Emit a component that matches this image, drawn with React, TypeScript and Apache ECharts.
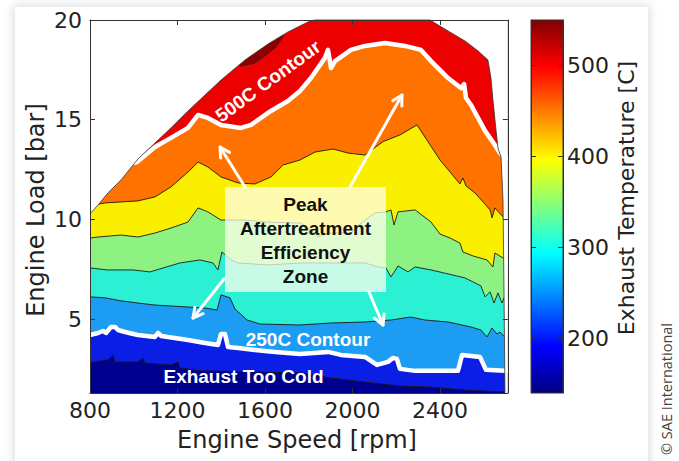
import React, { useEffect, useRef } from "react";
import * as echarts from "echarts";

// ---------- axes / ticks ----------
const speedRange = [800, 2710];
const loadRange = [1.3, 20];
const tempRange = [140, 550];
const speedTicks = [800, 1200, 1600, 2000, 2400];
const loadTicks = [5, 10, 15, 20];
const tempTicks = [200, 300, 400, 500];

// ---------- data: [engine speed rpm, engine load bar] ----------
// outer edge of the measured map
const envelope: [number, number][] = [
  [800, 10.28], [837, 10.73], [882, 11.33], [942, 11.98], [1019, 13.03], [1097, 13.83],
  [1170, 14.59], [1248, 15.44], [1326, 16.24], [1399, 16.99], [1509, 18.0], [1614, 18.8],
  [1705, 19.4], [1760, 19.7], [1806, 19.95], [1829, 20], [2354, 20], [2437, 19.45],
  [2514, 18.95], [2574, 18.45], [2619, 18.0], [2633, 17.09], [2642, 15.99], [2656, 14.49],
  [2665, 13.58], [2679, 13.13], [2688, 10.98], [2693, 5.97], [2697, 1.3],
];

// iso-temperature contours
const c200: [number, number][] = [
  [800, 2.81], [846, 2.91], [882, 2.96], [905, 3.21], [914, 2.86], [1019, 2.86], [1042, 3.06],
  [1051, 2.81], [1170, 2.71], [1202, 2.86], [1211, 2.56], [1303, 2.41], [1531, 2.36],
  [1760, 2.31], [1897, 2.06], [2057, 1.85], [2217, 1.65], [2354, 1.6], [2514, 1.45],
  [2697, 1.35], [2710, 1.35],
];
const c250: [number, number][] = [
  [800, 4.21], [837, 4.31], [859, 4.41], [873, 4.31], [896, 4.61], [914, 4.61], [928, 4.46],
  [960, 4.36], [1019, 4.21], [1097, 4.11], [1111, 4.31], [1125, 4.16], [1248, 3.96],
  [1326, 3.81], [1385, 3.71], [1399, 4.26], [1417, 4.26], [1431, 3.61], [1477, 3.56],
  [1554, 3.46], [1646, 3.36], [1760, 3.26], [1888, 3.36], [1947, 3.21], [2057, 3.11],
  [2112, 2.71], [2162, 2.86], [2185, 3.06], [2203, 3.01], [2217, 2.51], [2286, 2.41],
  [2482, 2.41], [2501, 3.21], [2542, 3.16], [2583, 3.11], [2610, 2.46], [2697, 2.41], [2710, 2.41],
];
const c300: [number, number][] = [
  [800, 6.12], [869, 6.07], [942, 5.92], [1019, 5.81], [1097, 5.71], [1248, 5.61], [1326, 5.56],
  [1381, 5.46], [1399, 6.22], [1440, 6.07], [1463, 5.51], [1518, 4.96], [1577, 4.76],
  [1760, 4.71], [1902, 4.81], [2057, 4.86], [2176, 4.96], [2267, 5.11], [2331, 4.96],
  [2437, 4.86], [2542, 4.61], [2587, 4.46], [2615, 4.11], [2638, 4.56], [2660, 4.26],
  [2674, 4.36], [2697, 4.11], [2710, 4.11],
];
const c350: [number, number][] = [
  [800, 7.57], [878, 7.47], [997, 7.47], [1074, 7.37], [1211, 7.82], [1303, 7.97], [1362, 7.82],
  [1385, 7.47], [1403, 8.37], [1445, 7.97], [1477, 7.82], [1614, 7.72], [1765, 7.82],
  [2057, 7.82], [2117, 7.62], [2153, 7.57], [2176, 7.12], [2194, 7.42], [2208, 7.67],
  [2254, 7.37], [2286, 7.62], [2359, 7.47], [2437, 7.27], [2514, 7.07], [2587, 6.67],
  [2606, 6.12], [2629, 6.37], [2647, 5.81], [2665, 6.32], [2683, 5.81], [2697, 6.17], [2710, 6.17],
];
const c400: [number, number][] = [
  [800, 9.07], [837, 9.12], [942, 9.22], [1019, 9.12], [1097, 9.32], [1170, 9.57], [1248, 9.87],
  [1294, 10.58], [1339, 10.38], [1399, 9.97], [1509, 9.97], [1614, 9.87], [1765, 9.82],
  [1810, 9.47], [1842, 9.12], [1888, 9.32], [1993, 9.32], [2039, 9.82], [2103, 10.33],
  [2153, 10.38], [2176, 10.48], [2190, 9.72], [2208, 10.38], [2286, 10.48], [2359, 9.87],
  [2400, 9.27], [2446, 9.07], [2491, 8.82], [2505, 8.37], [2551, 8.17], [2615, 7.97],
  [2642, 7.62], [2651, 8.32], [2688, 8.07], [2710, 8.07],
];
const c450: [number, number][] = [
  [800, 10.68], [846, 10.78], [869, 10.83], [1019, 10.93], [1097, 11.13], [1170, 11.63],
  [1248, 12.38], [1294, 12.88], [1339, 12.63], [1399, 12.13], [1477, 11.83], [1554, 11.78],
  [1627, 12.13], [1682, 12.73], [1760, 12.98], [1829, 13.38], [1911, 13.53], [1979, 13.33],
  [2057, 13.23], [2139, 13.9], [2217, 14.24], [2295, 14.74], [2400, 12.98], [2446, 12.38],
  [2491, 11.78], [2505, 12.08], [2519, 11.68], [2560, 11.33], [2597, 10.88], [2629, 10.48],
  [2638, 10.08], [2651, 10.58], [2688, 10.13], [2697, 9.97], [2710, 9.97],
];
const c500: [number, number][] = [
  [800, 12.23], [937, 12.68], [1015, 12.88], [1097, 13.63], [1170, 14.09], [1248, 14.59],
  [1294, 15.24], [1339, 15.09], [1399, 14.74], [1490, 14.59], [1536, 14.74], [1627, 15.44],
  [1705, 15.94], [1760, 16.44], [1810, 17.09], [1874, 18.1], [1888, 18.5], [1902, 17.59],
  [1920, 17.94], [1993, 18.5], [2057, 18.7], [2149, 18.85], [2240, 18.7], [2313, 18.5],
  [2359, 17.94], [2437, 17.09], [2496, 16.59], [2510, 16.79], [2519, 16.09], [2542, 15.74],
  [2606, 14.44], [2651, 13.73], [2674, 13.33], [2710, 12.98],
];
// hottest pocket (> 550 C)
const hotSpot: [number, number][] = [
  [1477, 17.79], [1490, 17.69], [1554, 17.84], [1600, 18.2], [1646, 18.6], [1673, 19.0],
  [1687, 19.3], [1623, 19.25], [1531, 18.75], [1477, 18.25],
];

// lines painted from the hottest down; each fills the region below it
const bandLines = [c500, c450, c400, c350, c300, c250, c200];
const bandColors = ["#ff7200", "#fbef00", "#8ef282", "#2cf0d4", "#1c9cf2", "#0a1ee6", "#00008e"];
const topColor = "#ec0000";
const hotColor = "#8c0000";
const whiteLines = [c250, c500];

const jetStops = [
  { offset: 0, color: "#800000" },
  { offset: 0.125, color: "#ff0000" },
  { offset: 0.375, color: "#ffff00" },
  { offset: 0.625, color: "#00ffff" },
  { offset: 0.875, color: "#0000ff" },
  { offset: 1, color: "#000080" },
];

const AXIS_FONT = "DejaVu Sans";
const NOTE_FONT = "Liberation Sans, Arial, sans-serif";

function arrow(x1: number, y1: number, x2: number, y2: number) {
  const a = Math.atan2(y2 - y1, x2 - x1);
  const L = 11;
  const w = 0.5;
  const p1 = [x2 - L * Math.cos(a - w), y2 - L * Math.sin(a - w)];
  const p2 = [x2 - L * Math.cos(a + w), y2 - L * Math.sin(a + w)];
  return [
    { type: "line", z: 100, shape: { x1, y1, x2, y2 }, style: { stroke: "#fff", lineWidth: 3, lineCap: "round" } },
    {
      type: "polyline", z: 100,
      shape: { points: [p1, [x2, y2], p2] },
      style: { stroke: "#fff", lineWidth: 3, fill: null, lineCap: "round", lineJoin: "round" },
    },
  ];
}

export default function App() {
  const ref = useRef<HTMLDivElement>(null);

  useEffect(() => {
    if (!ref.current) return;
    const chart = echarts.init(ref.current, null, { renderer: "svg" });

    const renderContours = (_params: any, api: any) => {
      const P = (p: number[]) => api.coord(p);
      const children: any[] = [];
      const tl = P([speedRange[0], loadRange[1]]);
      const br = P([speedRange[1], loadRange[0]]);
      children.push({
        type: "rect",
        shape: { x: tl[0], y: tl[1], width: br[0] - tl[0], height: br[1] - tl[1] },
        style: { fill: topColor },
      });
      bandLines.forEach((line, i) => {
        const pts = line.map(P);
        pts.push(P([line[line.length - 1][0], loadRange[0]]), P([line[0][0], loadRange[0]]));
        children.push({ type: "polygon", shape: { points: pts }, style: { fill: bandColors[i] } });
      });
      children.push({
        type: "polygon",
        shape: { points: hotSpot.map(P) },
        style: { fill: hotColor, stroke: "#222", lineWidth: 0.8 },
      });
      bandLines.forEach((line) =>
        children.push({
          type: "polyline",
          shape: { points: line.map(P) },
          style: { stroke: "#1a1a1a", lineWidth: 0.9, fill: null },
        })
      );
      whiteLines.forEach((line) =>
        children.push({
          type: "polyline",
          shape: { points: line.map(P) },
          style: { stroke: "#ffffff", lineWidth: 4.5, fill: null, lineJoin: "round" },
        })
      );
      const mask = envelope.map(P);
      mask.push(P([speedRange[1], loadRange[0]]), P([speedRange[1], loadRange[1]]), P([speedRange[0], loadRange[1]]));
      children.push({ type: "polygon", shape: { points: mask }, style: { fill: "#ffffff" } });
      children.push({
        type: "polyline",
        shape: { points: envelope.map(P) },
        style: { stroke: "#333", lineWidth: 0.8, fill: null },
      });
      return { type: "group", children };
    };

    const renderColorbar = (_params: any, api: any) => {
      const a = api.coord([0, tempRange[1]]);
      const b = api.coord([1, tempRange[0]]);
      return {
        type: "rect",
        shape: { x: a[0], y: a[1], width: b[0] - a[0], height: b[1] - a[1] },
        style: {
          fill: new echarts.graphic.LinearGradient(0, 0, 0, 1, jetStops),
          stroke: "#333",
          lineWidth: 1,
        },
      };
    };

    const plain = (v: number) => String(v);
    const frameLine = { show: true, onZero: false, lineStyle: { color: "#333", width: 1 } };
    const tickIn = { show: true, inside: true, length: 5, lineStyle: { color: "#333" } };
    const labelStyle = { fontFamily: AXIS_FONT, fontSize: 22, color: "#222", formatter: plain };

    const notes: any[] = [
      {
        type: "rect", z: 90,
        shape: { x: 225, y: 187, width: 161, height: 105 },
        style: { fill: "rgba(255,255,238,0.74)" },
      },
      ...["Peak", "Aftertreatment", "Efficiency", "Zone"].map((t, i) => ({
        type: "text", z: 101, x: 305.5, y: 204 + i * 24,
        style: {
          text: t, fontFamily: NOTE_FONT, fontWeight: "bold", fontSize: 19, fill: "#111",
          align: "center", verticalAlign: "middle",
        },
      })),
      ...arrow(245, 187, 220, 147),
      ...arrow(350, 187, 402, 95),
      ...arrow(224, 279, 193, 318),
      ...arrow(369, 292, 383, 325),
      {
        type: "text", z: 101, x: 268, y: 81, rotation: (36 * Math.PI) / 180,
        style: {
          text: "500C Contour", fontFamily: NOTE_FONT, fontWeight: "bold", fontSize: 19, fill: "#fff",
          align: "center", verticalAlign: "middle",
        },
      },
      {
        type: "text", z: 101, x: 308, y: 339,
        style: {
          text: "250C Contour", fontFamily: NOTE_FONT, fontWeight: "bold", fontSize: 19, fill: "#fff",
          align: "center", verticalAlign: "middle",
        },
      },
      {
        type: "text", z: 101, x: 243.5, y: 376,
        style: {
          text: "Exhaust Too Cold", fontFamily: NOTE_FONT, fontWeight: "bold", fontSize: 19, fill: "#fff",
          align: "center", verticalAlign: "middle",
        },
      },
      {
        type: "text", z: 101, x: 36, y: 210, rotation: Math.PI / 2,
        style: {
          text: "Engine Load [bar]", fontFamily: AXIS_FONT, fontSize: 24, fill: "#222",
          align: "center", verticalAlign: "middle",
        },
      },
      {
        type: "text", z: 101, x: 297, y: 440,
        style: {
          text: "Engine Speed [rpm]", fontFamily: AXIS_FONT, fontSize: 24, fill: "#222",
          align: "center", verticalAlign: "middle",
        },
      },
      {
        type: "text", z: 101, x: 626, y: 198, rotation: Math.PI / 2,
        style: {
          text: "Exhaust Temperature [C]", fontFamily: AXIS_FONT, fontSize: 22, fill: "#222",
          align: "center", verticalAlign: "middle",
        },
      },
      {
        type: "text", z: 101, x: 666, y: 389, rotation: Math.PI / 2,
        style: {
          text: "© SAE International", fontFamily: "Open Sans", fontSize: 14.5, fill: "#444",
          align: "center", verticalAlign: "middle",
        },
      },
    ];

    chart.setOption({
      animation: false,
      backgroundColor: "transparent",
      grid: [
        { left: 90, top: 20, width: 417.8, height: 373 },
        { left: 531, top: 20, width: 32, height: 373 },
      ],
      xAxis: [
        {
          type: "value", gridIndex: 0, min: speedRange[0], max: speedRange[1], interval: 400,
          position: "bottom", z: 10, splitLine: { show: false },
          axisLine: frameLine, axisTick: tickIn,
          axisLabel: { ...labelStyle, margin: 6, customValues: speedTicks },
        },
        {
          type: "value", gridIndex: 0, min: speedRange[0], max: speedRange[1], interval: 400,
          position: "top", z: 10, splitLine: { show: false },
          axisLine: frameLine, axisTick: tickIn, axisLabel: { show: false },
        },
        { type: "value", gridIndex: 1, min: 0, max: 1, show: false },
      ],
      yAxis: [
        {
          type: "value", gridIndex: 0, min: loadRange[0], max: loadRange[1], position: "left",
          z: 10, splitLine: { show: false }, axisLine: frameLine,
          axisTick: { ...tickIn, customValues: loadTicks },
          axisLabel: { ...labelStyle, margin: 8, customValues: loadTicks },
        },
        {
          type: "value", gridIndex: 0, min: loadRange[0], max: loadRange[1], position: "right",
          z: 10, splitLine: { show: false }, axisLine: frameLine,
          axisTick: { ...tickIn, customValues: loadTicks }, axisLabel: { show: false },
        },
        {
          type: "value", gridIndex: 1, min: tempRange[0], max: tempRange[1], position: "right",
          z: 10, splitLine: { show: false }, axisLine: frameLine,
          axisTick: { ...tickIn, customValues: tempTicks },
          axisLabel: { ...labelStyle, margin: 4, customValues: tempTicks },
        },
        {
          type: "value", gridIndex: 1, min: tempRange[0], max: tempRange[1], position: "left",
          z: 10, splitLine: { show: false }, axisLine: frameLine,
          axisTick: { ...tickIn, customValues: tempTicks }, axisLabel: { show: false },
        },
      ],
      series: [
        {
          type: "custom", xAxisIndex: 0, yAxisIndex: 0, silent: true,
          data: [[speedRange[0], loadRange[0]]], renderItem: renderContours,
        },
        {
          type: "custom", xAxisIndex: 2, yAxisIndex: 2, silent: true,
          data: [[0, tempRange[0]]], renderItem: renderColorbar,
        },
      ],
      graphic: notes,
    });

    return () => chart.dispose();
  }, []);

  return (
    <div style={{ position: "fixed", left: 0, top: 0, width: 679, height: 461, background: "#fff", overflow: "hidden" }}>
      <div
        style={{
          position: "absolute", left: 15, top: 7, width: 633, height: 480, background: "#fff",
          boxShadow: "0 0 9px 2px rgba(0,0,0,0.13)",
        }}
      />
      <div ref={ref} style={{ position: "absolute", left: 0, top: 0, width: 679, height: 461 }} />
    </div>
  );
}
